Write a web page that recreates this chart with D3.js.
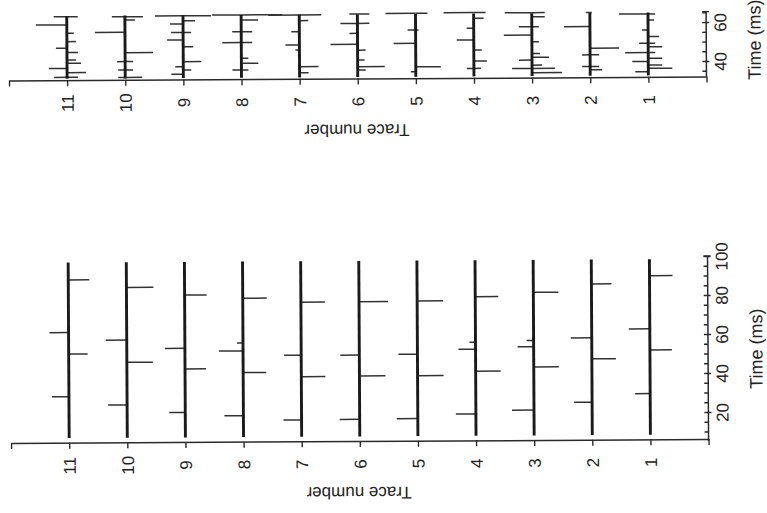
<!DOCTYPE html>
<html>
<head>
<meta charset="utf-8">
<script src="https://cdn.jsdelivr.net/npm/d3@7"></script>
<style>
  html, body { margin: 0; padding: 0; background: #fff; }
  svg { display: block; }
  text { font-family: "Liberation Sans", Arial, Helvetica, sans-serif; fill: #222; }
</style>
</head>
<body>
<svg id="chart" width="767" height="513"></svg>
<script>
// ---------------- DATA ----------------
const traceNumbers = [1, 2, 3, 4, 5, 6, 7, 8, 9, 10, 11];
const traceTicks = [0, 1, 2, 3, 4, 5, 6, 7, 8, 9, 10, 11, 12];

// lower panel: time axis 0..100 ms
const lowerTimeLabels = [20, 40, 60, 80, 100];
const lowerTimeMinor = [10, 15, 20, 25, 30, 35, 40, 45, 50, 55, 60, 65, 70, 75, 80, 85, 90, 95, 100];
const lowerTimeSpan = [5.1, 100];   // extent of the time axis line (ms)
const lowerTraceSpan = [8.5, 98.5]; // extent of each recorded trace (ms)

// upper panel: time axis ~32..65 ms
const upperTimeLabels = [40, 60];
const upperTimeMinor = [35, 40, 45, 50, 55, 60, 65];
const upperTimeSpan = [32.0, 65.3];
const upperTraceSpan = [32.8, 65.0];

// spikes: [time (ms), deflection (positive = to the right in the picture)]
const lowerSpikes = [
  { trace: 11, spikes: [[89.6, 21], [62.6, -19], [51.6, 19], [29.7, -17]] },
  { trace: 10, spikes: [[85.6, 27], [58.6, -21], [47.2, 26], [25.3, -19]] },
  { trace: 9,  spikes: [[81.5, 22], [54.2, -20], [43.6, 21], [21.3, -16]] },
  { trace: 8,  spikes: [[79.7, 24], [52.7, -24], [41.6, 23], [19.5, -19], [56.8, -6]] },
  { trace: 7,  spikes: [[77.5, 24], [50.3, -17], [39.3, 24], [17.1, -18]] },
  { trace: 6,  spikes: [[77.6, 29], [50.2, -19], [39.5, 26], [17.3, -20]] },
  { trace: 5,  spikes: [[77.8, 26], [50.5, -19], [39.5, 26], [17.5, -21]] },
  { trace: 4,  spikes: [[79.8, 23], [52.9, -17], [41.6, 25], [19.7, -20], [56.5, -6]] },
  { trace: 3,  spikes: [[81.9, 25], [54.0, -16], [43.6, 25], [21.5, -22], [57.2, -7]] },
  { trace: 2,  spikes: [[86.0, 20], [58.4, -21], [47.6, 24], [25.4, -18]] },
  { trace: 1,  spikes: [[90.1, 23], [62.8, -21], [52.0, 22], [29.6, -15]] }
];

const upperSpikes = [
  { trace: 11, spikes: [[64.6, -13], [64.6, 11], [60.4, -31], [56.1, 7], [51.8, 9], [48.4, -11], [46.2, 11], [42.4, 9], [40.7, 14], [38.1, -18], [35.9, 19], [33.5, -13], [33.5, 11]] },
  { trace: 10, spikes: [[64.4, -13], [64.4, 18], [62.7, 10], [56.4, -30], [46.0, 28], [41.4, -8], [41.4, 8], [37.1, -7], [37.1, 8], [33.3, 17], [33.3, -7]] },
  { trace: 9,  spikes: [[64.7, -28], [64.7, 28], [62.2, 12], [60.5, -13], [56.2, -12], [56.2, 8], [52.3, -16], [48.8, 10], [41.2, 18], [38.6, -8], [36.9, 8], [34.8, -12]] },
  { trace: 8,  spikes: [[65.0, -29], [65.0, 41], [62.4, 17], [56.4, -9], [56.4, 11], [50.8, -19], [50.8, 11], [42.8, 7], [40.2, 17], [36.8, -9], [36.8, 7]] },
  { trace: 7,  spikes: [[64.8, -31], [64.8, 22], [61.9, 9], [56.2, -8], [49.4, -14], [46.8, -4], [38.3, 19], [35.2, 9]] },
  { trace: 6,  spikes: [[65.1, -8], [65.1, 12], [60.3, -17], [60.3, 12], [55.2, -8], [49.6, -27], [46.6, 8], [41.5, 7], [38.1, 27], [36.4, 8]] },
  { trace: 5,  spikes: [[65.3, -30], [65.3, 12], [56.8, -8], [56.8, 3], [49.9, -22], [37.9, 25], [35.3, -5]] },
  { trace: 4,  spikes: [[65.5, -30], [65.5, 12], [62.6, 10], [57.5, -7], [51.5, -17], [46.3, 8], [40.7, 13], [36.9, -7], [36.9, 7]] },
  { trace: 3,  spikes: [[65.3, -27], [65.3, 13], [63.2, 13], [58.1, -13], [58.1, 7], [53.8, -28], [50.4, 7], [44.4, 8], [42.4, 17], [41.0, -13], [38.4, 10], [36.7, -20], [36.7, 23], [34.5, 30]] },
  { trace: 2,  spikes: [[65.2, -4], [65.2, 2], [58.0, -26], [46.9, 29], [43.5, -8], [43.5, 9], [37.5, -8], [37.5, 9], [35.8, 12]] },
  { trace: 1,  spikes: [[64.3, -29], [64.3, 7], [61.2, 6], [56.1, -6], [52.7, 11], [49.3, -9], [49.3, 7], [47.5, 14], [44.5, -23], [44.5, 7], [41.6, 14], [39.9, -16], [38.1, 14], [36.4, 24], [34.7, -13]] }
];

// ---------------- DRAWING ----------------
const svg = d3.select("#chart");
svg.append("rect").attr("width", 767).attr("height", 513).attr("fill", "#fff");

// the scanned figure is very slightly tilted
const root = svg.append("g").attr("transform", "rotate(-0.33, 360, 256)");

const xTrace = d3.scaleLinear().domain([0, 12]).range([707.5, 10]);
const dx = d3.scaleLinear().domain([-40, 40]).range([-40, 40]);

const panels = [
  {
    axisY: 441,
    y: d3.scaleLinear().domain([20, 100]).range([414, 258]),
    labels: lowerTimeLabels, minor: lowerTimeMinor,
    span: lowerTimeSpan, traceSpan: lowerTraceSpan,
    spikes: lowerSpikes, timeTitleY: 351
  },
  {
    axisY: 78.5,
    y: d3.scaleLinear().domain([40, 60]).range([63, 24]),
    labels: upperTimeLabels, minor: upperTimeMinor,
    span: upperTimeSpan, traceSpan: upperTraceSpan,
    spikes: upperSpikes, timeTitleY: 42
  }
];

panels.forEach(p => {
  const g = root.append("g");

  // ---- traces ----
  const tg = g.append("g");
  p.spikes.forEach(tr => {
    const x = xTrace(tr.trace);
    const one = tg.append("g");
    one.selectAll("line.spike").data(tr.spikes).join("line")
      .attr("class", "spike")
      .attr("x1", x).attr("x2", d => x + dx(d[1]))
      .attr("y1", d => p.y(d[0])).attr("y2", d => p.y(d[0]))
      .attr("stroke", "#333").attr("stroke-width", 1.5);
    one.append("line")
      .attr("x1", x).attr("x2", x)
      .attr("y1", p.y(p.traceSpan[0])).attr("y2", p.y(p.traceSpan[1]))
      .attr("stroke", "#1a1a1a").attr("stroke-width", 2.9);
  });

  // ---- trace-number axis ----
  const xAxis = d3.axisBottom(xTrace)
    .tickValues(traceTicks)
    .tickSize(6).tickSizeOuter(0)
    .tickFormat(d => traceNumbers.includes(d) ? String(d) : "");
  const xa = g.append("g").attr("transform", `translate(0,${p.axisY})`).call(xAxis);
  xa.select(".domain").attr("stroke", "#2a2a2a").attr("stroke-width", 1.5);
  xa.selectAll(".tick line").attr("stroke", "#2a2a2a").attr("stroke-width", 1.4);
  xa.selectAll(".tick text")
    .attr("font-size", 17).attr("font-family", null)
    .attr("fill", "#222")
    .attr("transform", "rotate(-90)")
    .attr("x", -23).attr("y", 0).attr("dy", "0.35em")
    .attr("text-anchor", "middle");

  // ---- time axis ----
  const ax = xTrace(0);
  const yAxisScale = p.y.copy();
  const minorAxis = d3.axisLeft(yAxisScale).tickValues(p.minor).tickSize(4).tickSizeOuter(0).tickFormat("");
  const ma = g.append("g").attr("transform", `translate(${ax},0)`).call(minorAxis);
  ma.select(".domain").remove();
  ma.selectAll(".tick line").attr("stroke", "#2a2a2a").attr("stroke-width", 1.3);

  const labelAxis = d3.axisRight(yAxisScale).tickValues(p.labels).tickSize(3).tickSizeOuter(0);
  const la = g.append("g").attr("transform", `translate(${ax},0)`).call(labelAxis);
  la.select(".domain").remove();
  la.selectAll(".tick line").attr("stroke", "#2a2a2a").attr("stroke-width", 1.3);
  la.selectAll(".tick text")
    .attr("font-size", 17).attr("font-family", null).attr("fill", "#222")
    .attr("transform", "rotate(-90)")
    .attr("x", 0).attr("y", 20).attr("dy", 0)
    .attr("text-anchor", "middle");

  g.append("line")
    .attr("x1", ax).attr("x2", ax)
    .attr("y1", p.y(p.span[0])).attr("y2", p.y(p.span[1]))
    .attr("stroke", "#2a2a2a").attr("stroke-width", 1.5);
  // small cap at the top of the time axis
  g.append("line")
    .attr("x1", ax - 4).attr("x2", ax + 3)
    .attr("y1", p.y(p.span[1])).attr("y2", p.y(p.span[1]))
    .attr("stroke", "#2a2a2a").attr("stroke-width", 1.3);

  // ---- titles ----
  g.append("text")
    .attr("transform", `translate(${(xTrace(0) + xTrace(12)) / 2 - 1},${p.axisY + 52}) rotate(180)`)
    .attr("text-anchor", "middle").attr("dy", "0.35em")
    .attr("font-size", 17)
    .text("Trace number");

  g.append("text")
    .attr("transform", `translate(755.5,${p.timeTitleY}) rotate(-90)`)
    .attr("text-anchor", "middle").attr("dy", "0.35em")
    .attr("font-size", 18)
    .text("Time (ms)");
});
</script>
</body>
</html>
